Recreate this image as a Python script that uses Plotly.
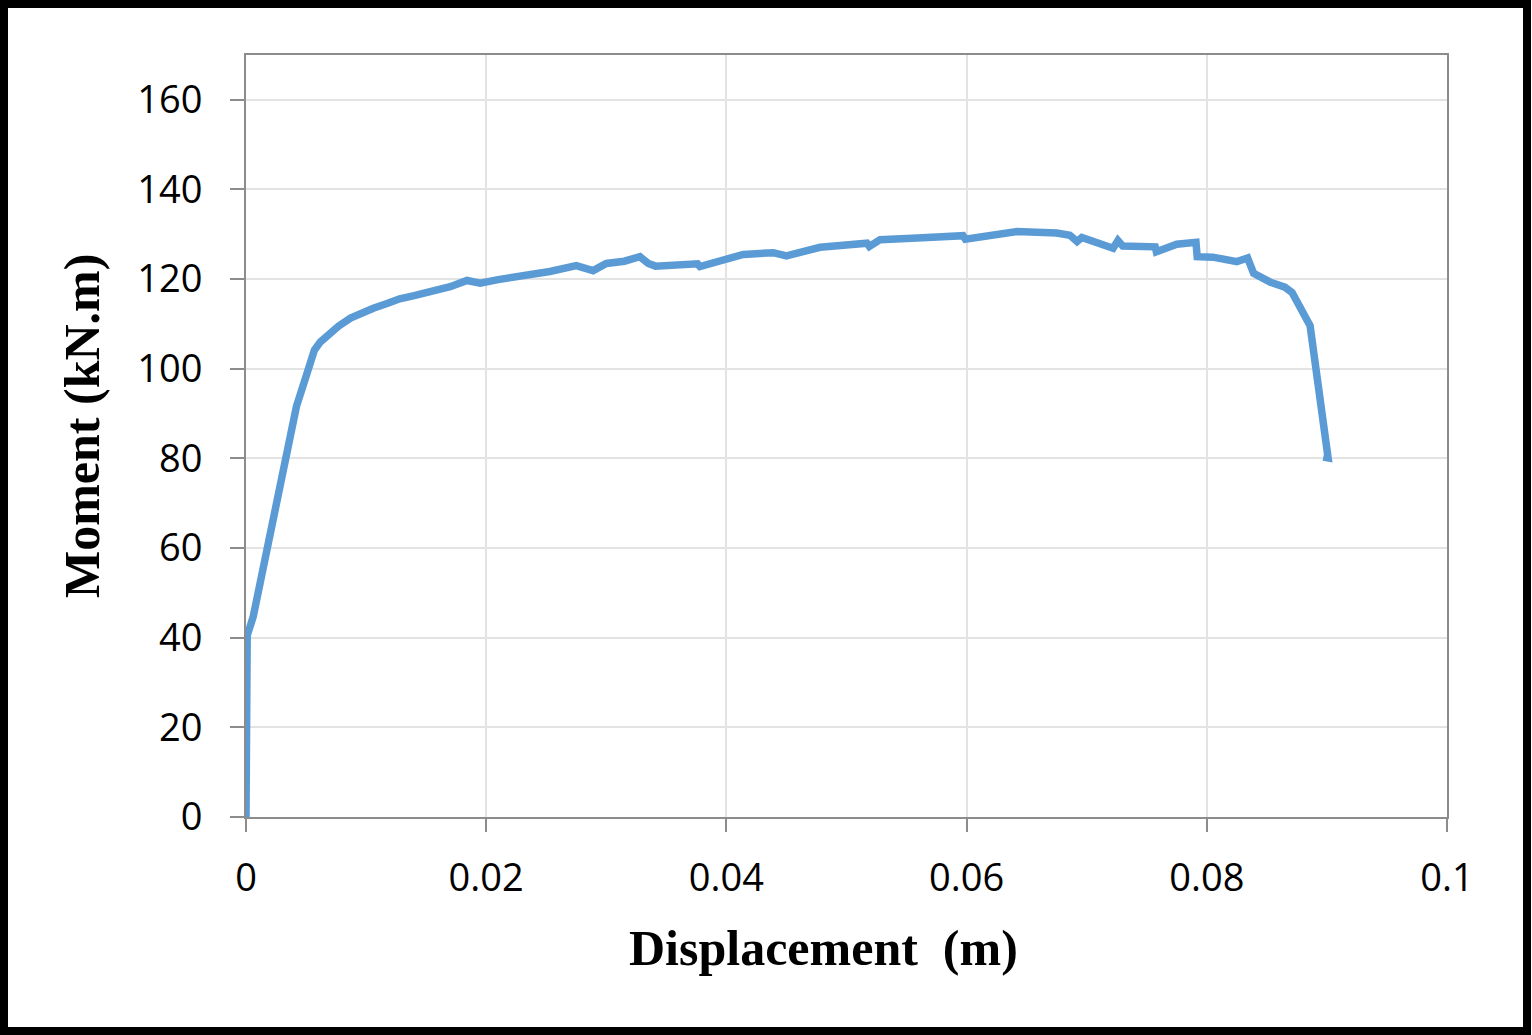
import plotly.graph_objects as go

# Displacement (m)
displacement = [0.0, 0.0, 0.0001, 0.0006, 0.0017, 0.0026, 0.0034, 0.0042, 0.0050, 0.0057,
                0.0062, 0.0067, 0.0077, 0.0087, 0.0097, 0.0106, 0.0118, 0.0128, 0.0140, 0.0148,
                0.0156, 0.0170, 0.0184, 0.0195, 0.0210, 0.0225, 0.0240, 0.0253, 0.0275, 0.0289,
                0.0300, 0.0315, 0.0328, 0.0335, 0.0341, 0.0364, 0.0376, 0.0378, 0.0400, 0.0414,
                0.0439, 0.0450, 0.0478, 0.0517, 0.0519, 0.0528, 0.0559, 0.0597, 0.0599, 0.0614,
                0.0642, 0.0675, 0.0686, 0.0692, 0.0696, 0.0722, 0.0726, 0.0730, 0.0757, 0.0758,
                0.0767, 0.0775, 0.0791, 0.0792, 0.0805, 0.0825, 0.0834, 0.0839, 0.0853, 0.0865,
                0.0871, 0.0876, 0.0882, 0.0886, 0.0901, 0.0897]
# Moment (kN.m)
moment = [0.0, 38.0, 40.5, 44.7, 59.6, 70.7, 81.9, 91.6, 98.3, 104.2,
          106.0, 107.2, 109.5, 111.3, 112.6, 113.5, 114.6, 115.6, 116.3, 116.8,
          117.0, 118.3, 119.7, 119.1, 119.9, 120.4, 120.9, 121.7, 123.0, 121.9,
          123.5, 124.0, 125.0, 123.5, 122.9, 123.2, 123.4, 122.8, 124.5, 125.5,
          125.9, 125.2, 127.1, 128.0, 127.3, 128.8, 129.2, 129.7, 128.9, 129.5,
          130.6, 130.3, 129.8, 128.4, 129.3, 126.9, 128.6, 127.4, 127.2, 126.1,
          126.9, 127.8, 128.2, 125.0, 124.9, 123.9, 124.7, 121.3, 119.3, 118.2,
          117.0, 114.8, 111.8, 109.6, 80.1, 80.3]

x_ticks = [0, 0.02, 0.04, 0.06, 0.08, 0.1]
x_ticklabels = ["0", "0.02", "0.04", "0.06", "0.08", "0.1"]
y_ticks = [0, 20, 40, 60, 80, 100, 120, 140, 160]

fig = go.Figure()
fig.add_trace(go.Scatter(x=displacement, y=moment, mode="lines",
                         line=dict(color="#5B9BD5", width=7.5), showlegend=False))

W, H = 1532, 1035
L, R, T, B = 246, 85, 55, 218
pw, ph = W - L - R, H - T - B

def px(xp):
    return (xp - L) / pw

def py(yp):
    return (H - B - yp) / ph

tickfont = dict(family="Open Sans", size=38, color="#000000")
fig.update_layout(
    width=W, height=H,
    margin=dict(l=L, r=R, t=T, b=B, pad=0),
    paper_bgcolor="white", plot_bgcolor="white",
    xaxis=dict(range=[0, 0.1], tickvals=x_ticks, ticktext=x_ticklabels,
               showgrid=True, gridcolor="#E3E3E3", gridwidth=1.5,
               showline=True, linecolor="#8C8C8C", linewidth=2, mirror=True,
               ticks="outside", ticklen=13, tickwidth=2, tickcolor="#8C8C8C",
               tickfont=tickfont, zeroline=False, ticklabelstandoff=13),
    yaxis=dict(range=[0, 170], tickvals=y_ticks,
               showgrid=True, gridcolor="#E3E3E3", gridwidth=1.5,
               showline=True, linecolor="#8C8C8C", linewidth=2, mirror=True,
               ticks="outside", ticklen=14, tickwidth=2, tickcolor="#8C8C8C",
               tickfont=tickfont, zeroline=False, ticklabelstandoff=20),
    annotations=[
        dict(text="Displacement&nbsp;&nbsp;(m)", xref="paper", yref="paper",
             x=px(823), y=py(948), xanchor="center", yanchor="middle", showarrow=False,
             font=dict(family="Liberation Serif", size=50, color="black", weight="bold")),
        dict(text="Moment (kN.m)", xref="paper", yref="paper", textangle=-90,
             x=px(82), y=py(426), xanchor="center", yanchor="middle", showarrow=False,
             font=dict(family="Liberation Serif", size=50, color="black", weight="bold")),
    ],
    shapes=[dict(type="rect", xref="paper", yref="paper",
                 x0=px(4), x1=px(1527), y0=py(1031), y1=py(4),
                 line=dict(color="black", width=8), fillcolor="rgba(0,0,0,0)", layer="above")],
)

fig.write_html("out.html")
